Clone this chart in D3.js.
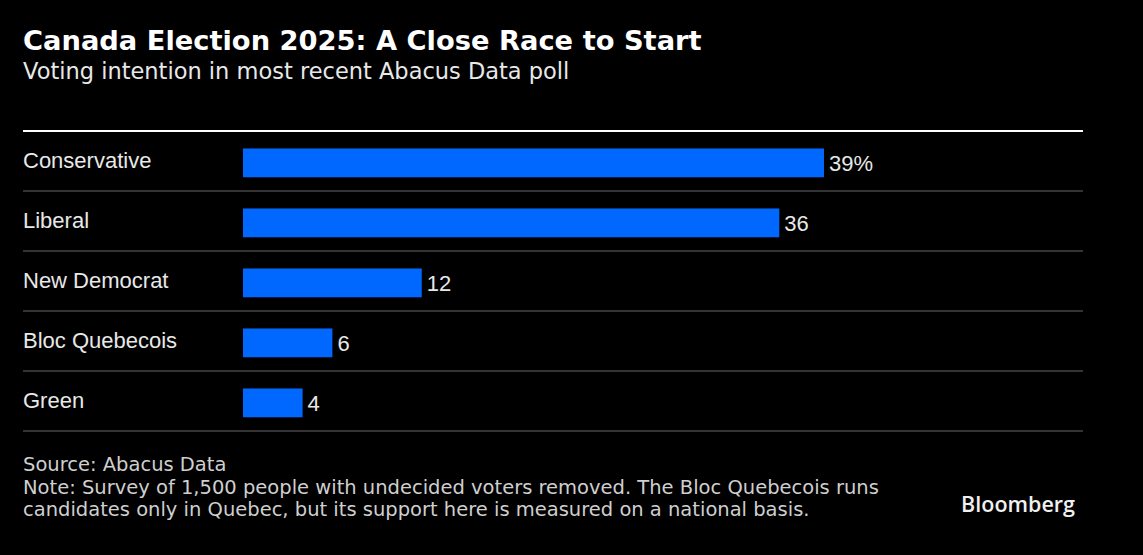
<!DOCTYPE html>
<html>
<head>
<meta charset="utf-8">
<script src="https://cdn.jsdelivr.net/npm/d3@7"></script>
<style>
  html, body { margin: 0; padding: 0; background: #000; }
  svg { display: block; }
</style>
</head>
<body>
<svg id="chart" width="1143" height="555"></svg>
<script>
const parties = ["Conservative", "Liberal", "New Democrat", "Bloc Quebecois", "Green"];
const shares = [39, 36, 12, 6, 4];
const valueLabels = ["39%", "36", "12", "6", "4"];

const title = "Canada Election 2025: A Close Race to Start";
const subtitle = "Voting intention in most recent Abacus Data poll";
const notes = [
  "Source: Abacus Data",
  "Note: Survey of 1,500 people with undecided voters removed. The Bloc Quebecois runs",
  "candidates only in Quebec, but its support here is measured on a national basis."
];

const W = 1143, H = 555,
    left = 23, right = 1083, barLeft = 243,
    plotTop = 131, rowH = 60;

const svg = d3.select('#chart');
svg.append('rect').attr('width', W).attr('height', H).attr('fill', '#000');

const dejavu = "'DejaVu Sans', sans-serif";
const arial = "'Liberation Sans', Arial, sans-serif";

svg.append('text')
    .attr('x', left).attr('y', 50)
    .attr('fill', '#fff')
    .style('font-family', dejavu)
    .style('font-weight', 'bold')
    .style('font-size', '27.3px')
    .text(title);

svg.append('text')
    .attr('x', left).attr('y', 79)
    .attr('fill', '#e8e8e8')
    .style('font-family', dejavu)
    .style('font-size', '22.5px')
    .text(subtitle);

const x = d3.scaleLinear()
    .domain([0, 39])
    .range([barLeft, 824]);

// step of 60px per row, bars ~29px tall, sitting a bit below row middle
const y = d3.scaleBand()
    .domain(parties)
    .range([plotTop, plotTop + rowH * parties.length])
    .paddingInner(0.52)
    .paddingOuter(0.26)
    .align(0.56);

const data = parties.map((p, i) => ({party: p, value: shares[i], label: valueLabels[i]}));

const g = svg.append('g');

// row separators
g.selectAll('.sep')
    .data(parties)
    .enter().append('line')
    .classed('sep', true)
    .attr('x1', left).attr('x2', right)
    .attr('y1', (d, i) => plotTop + rowH * (i + 1))
    .attr('y2', (d, i) => plotTop + rowH * (i + 1))
    .attr('stroke', '#333')
    .attr('stroke-width', 2);

// top rule
g.append('line')
    .attr('x1', left).attr('x2', right)
    .attr('y1', plotTop).attr('y2', plotTop)
    .attr('stroke', '#fff')
    .attr('stroke-width', 2);

g.selectAll('.bar')
    .data(data)
    .enter().append('rect')
    .classed('bar', true)
    .attr('x', x(0))
    .attr('y', d => y(d.party))
    .attr('width', d => x(d.value) - x(0))
    .attr('height', y.bandwidth())
    .attr('fill', '#0068ff');

g.selectAll('.cat')
    .data(data)
    .enter().append('text')
    .classed('cat', true)
    .attr('x', left)
    .attr('y', d => y(d.party) + y.bandwidth() / 2 + 5.5)
    .attr('fill', '#e8e8e8')
    .style('font-family', arial)
    .style('font-size', '22px')
    .text(d => d.party);

g.selectAll('.val')
    .data(data)
    .enter().append('text')
    .classed('val', true)
    .attr('x', d => x(d.value) + 5)
    .attr('y', d => y(d.party) + y.bandwidth() / 2 + 8.5)
    .attr('fill', '#e8e8e8')
    .style('font-family', arial)
    .style('font-size', '22px')
    .text(d => d.label);

svg.selectAll('.note')
    .data(notes)
    .enter().append('text')
    .classed('note', true)
    .attr('x', left)
    .attr('y', (d, i) => 471 + i * 22.5)
    .attr('fill', '#cfcfcf')
    .style('font-family', dejavu)
    .style('font-size', '19.5px')
    .text(d => d);

svg.append('text')
    .attr('x', 1075).attr('y', 512)
    .attr('text-anchor', 'end')
    .attr('fill', '#f0f0f0')
    .style('font-family', "'Open Sans', sans-serif")
    .style('font-weight', 600)
    .style('font-size', '21.5px')
    .text('Bloomberg');
</script>
</body>
</html>
